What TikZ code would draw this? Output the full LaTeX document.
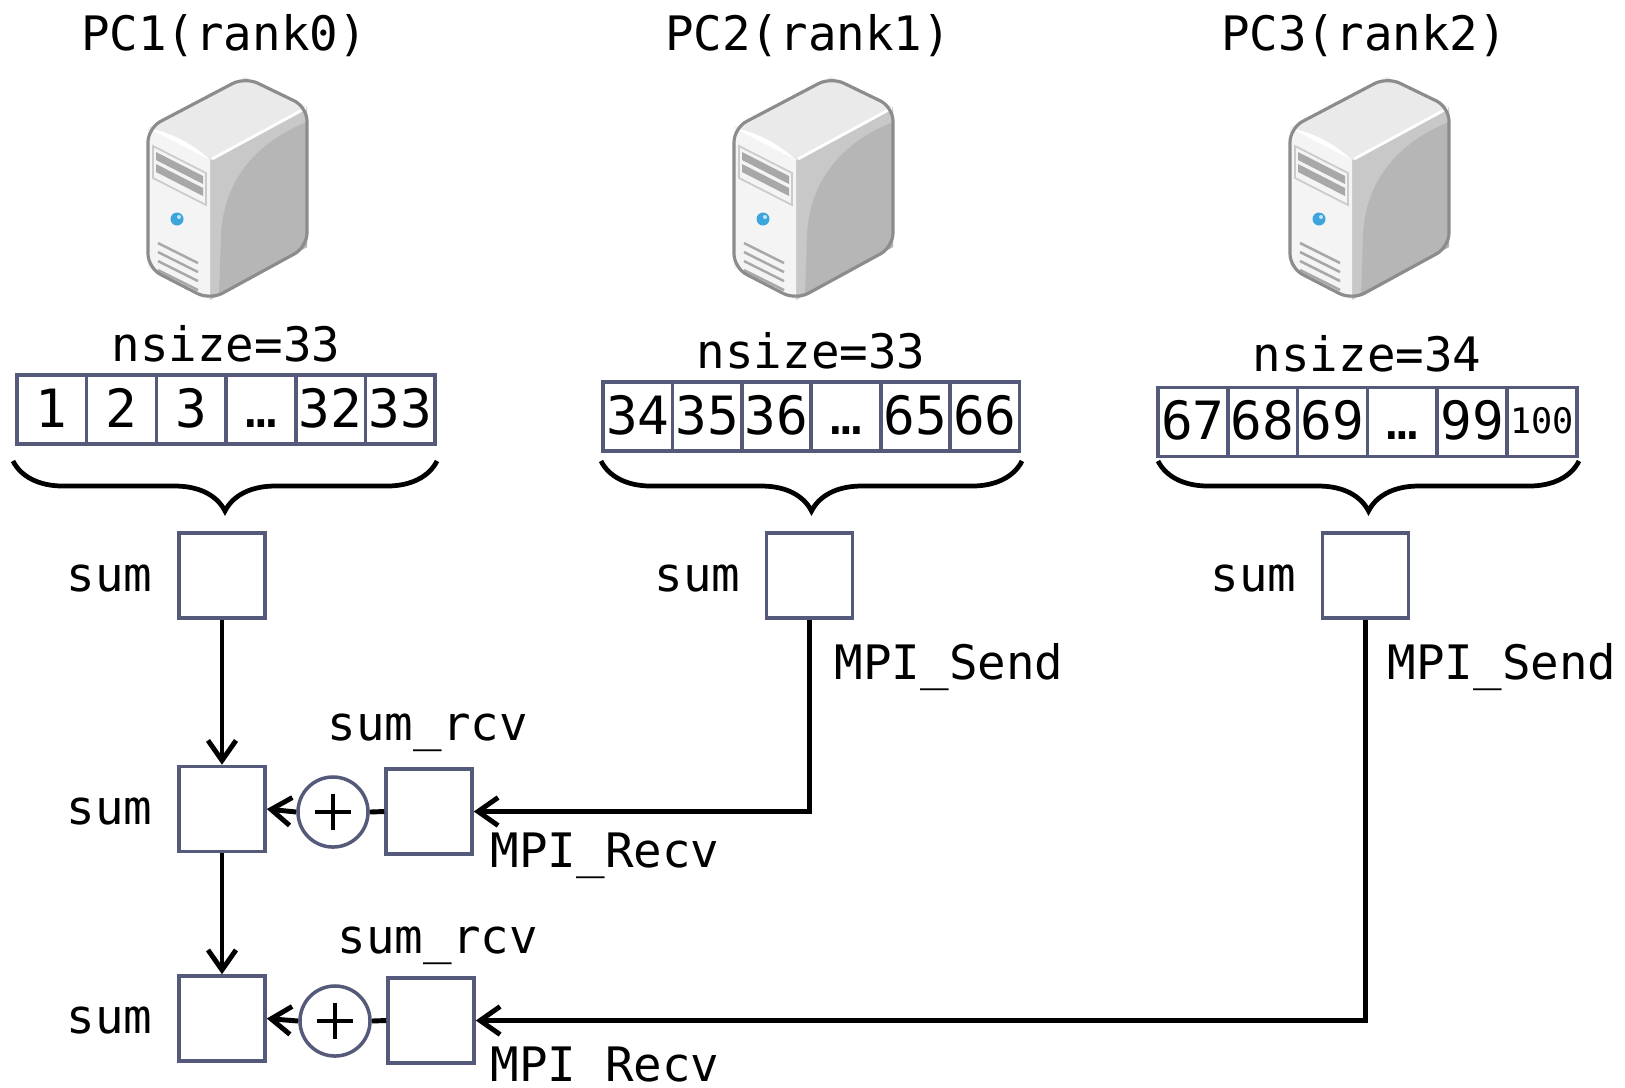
\documentclass[tikz,border=0pt]{standalone}
\usepackage{fontspec}
\setmonofont{DejaVu Sans Mono}
\usepackage{tikz}
\usetikzlibrary{arrows.meta,decorations.pathreplacing}
\usepackage{xcolor}

\definecolor{boxline}{RGB}{85,90,122}
\definecolor{srvedge}{RGB}{140,140,140}
\definecolor{srvtop}{RGB}{234,234,234}
\definecolor{srvfront}{RGB}{244,244,244}
\definecolor{srvside}{RGB}{200,200,200}
\definecolor{srvdark}{RGB}{182,182,182}
\definecolor{srvbar}{RGB}{168,168,168}
\definecolor{srvblue}{RGB}{60,165,220}

\tikzset{
  lbl/.style={font=\ttfamily\fontsize{13.5}{13.5}\selectfont, inner sep=0pt},
  cellbox/.style={draw=boxline, line width=1pt, minimum width=0.697cm, minimum height=0.69cm,
    inner sep=0pt, text height=0.35cm, text depth=0pt, font=\ttfamily\fontsize{15}{15}\selectfont},
  sumbox/.style={draw=boxline, line width=1pt, minimum width=0.86cm, minimum height=0.85cm, inner sep=0pt},
  plusnode/.style={circle, draw=boxline, line width=1pt, minimum size=0.70cm, inner sep=0pt,
    path picture={\draw[black, line width=1pt] (path picture bounding box.center) ++(-0.18cm,0) -- ++(0.36cm,0)
      (path picture bounding box.center) ++(0,-0.18cm) -- ++(0,0.36cm);}},
  wire/.style={line width=1.4pt},
  arr/.style={wire, -{Straight Barb[length=0.2cm, width=0.28cm]}},
  brc/.style={line width=1.35pt, decorate, decoration={brace, amplitude=0.5cm}},
  server/.pic={
    % side face with the darker lower part
    \fill[srvside] (210,160) -- (307,107) -- (307,247) -- (210,300) -- cycle;
    \fill[srvdark] (307,122) .. controls (262,140) and (224,175) .. (221,235) -- (219,295) -- (307,247) -- cycle;
    % front and top
    \fill[srvfront] (148,128) -- (210,160) -- (210,300) -- (148,268) -- cycle;
    \fill[srvtop] (148,128) -- (245,77) -- (307,107) -- (210,160) .. controls (196,146) and (172,132) .. cycle;
    \draw[white, line width=0.8pt] (212,159) -- (306,108);
    % panel, bars, button and vents
    \draw[srvedge!45, line width=0.5pt, fill=srvfront] (153,146) -- (206,173) -- (206,205) -- (153,178) -- cycle;
    \fill[srvbar] (156,152) -- (203,176) -- (203,184) -- (156,160) -- cycle;
    \fill[srvbar] (156,164) -- (203,188) -- (203,196) -- (156,172) -- cycle;
    \fill[srvblue] (177,219) circle (0.065cm);
    \fill[white!70!srvblue] (179,217) circle (0.02cm);
    \foreach \k in {0,...,3}
      \draw[srvbar, line width=0.7pt] (158,{243+9*\k}) -- (198,{263+9*\k});
    % outline
    \draw[srvedge, line width=0.9pt, rounded corners=4pt] (148,128) -- (245,77) -- (307,107) -- (307,247)
      -- (210,300) -- (148,268) -- cycle;
  }
}

\begin{document}
\begin{tikzpicture}[x=0.01cm, y=-0.01cm]
  \useasboundingbox (0,0) rectangle (1625,1087);

  % machines
  \node[lbl, anchor=base] (T1) at (224,50) {PC1(rank0)};
  \node[lbl, anchor=base] (T2) at (808,50) {PC2(rank1)};
  \node[lbl, anchor=base] (T3) at (1364,50) {PC3(rank2)};
  \pic at (0,0) {server};
  \pic at (586,0) {server};
  \pic at (1142,0) {server};

  % local parts of the array
  \node[lbl, anchor=base] (N1) at (226,361) {nsize=33};
  \node[lbl, anchor=base] (N2) at (811,368) {nsize=33};
  \node[lbl, anchor=base] (N3) at (1367,371) {nsize=34};
  \foreach \v [count=\i] in {1,2,3,…,32,33}
    \node[cellbox] (a\i) at ({51.85+(\i-1)*69.7},409.5) {\v};
  \foreach \v [count=\i] in {34,35,36,…,65,66}
    \node[cellbox] (b\i) at ({637.85+(\i-1)*69.4},416.5) {\v};
  \foreach \v [count=\i] in {67,68,69,…,99,{\raisebox{0.06cm}{\fontsize{10}{10}\selectfont 100}}}
    \node[cellbox] (c\i) at ({1192.9+(\i-1)*69.8},422) {\v};

  \draw[brc] (437,461) -- (13,461);
  \draw[brc] (1022,461) -- (601,461);
  \draw[brc] (1579,461) -- (1158,461);

  % partial sums
  \node[sumbox] (s1) at (222,575.5) {};
  \node[sumbox] (s2) at (809.5,575.5) {};
  \node[sumbox] (s3) at (1365.5,575.5) {};
  \node[lbl, anchor=base east] (L1) at (153,591) {sum};
  \node[lbl, anchor=base east] (L2) at (741,591) {sum};
  \node[lbl, anchor=base east] (L3) at (1297,591) {sum};

  % reduction on rank 0
  \node[sumbox] (t1) at (222,809) {};
  \node[sumbox] (t2) at (222,1018.5) {};
  \node[plusnode] (p1) at (333,812) {};
  \node[plusnode] (p2) at (335,1021) {};
  \node[sumbox] (r1) at (429,811.5) {};
  \node[sumbox] (r2) at (431,1020.5) {};
  \node[lbl, anchor=base east] (L4) at (153,824) {sum};
  \node[lbl, anchor=base east] (L5) at (153,1033) {sum};
  \node[lbl, anchor=base west] (R1) at (327,740) {sum\_rcv};
  \node[lbl, anchor=base west] (R2) at (337,953) {sum\_rcv};
  \node[lbl, anchor=base west] (M1) at (834,679) {MPI\_Send};
  \node[lbl, anchor=base west] (M2) at (1387,679) {MPI\_Send};
  \node[lbl, anchor=base west] (M3) at (490,867) {MPI\_Recv};
  \node[lbl, anchor=base west] (M4) at (490,1081) {MPI\_Recv};

  \draw[arr] (s1) -- (t1);
  \draw[arr] (t1) -- (t2);
  \draw[arr] (s2.south) |- (r1.east);
  \draw[arr] (s3.south) |- (r2.east);
  \draw[wire] (r1.west) -- (p1.east);
  \draw[wire] (r2.west) -- (p2.east);
  \draw[arr] (p1.west) -- (t1.east);
  \draw[arr] (p2.west) -- (t2.east);
\end{tikzpicture}
\end{document}
